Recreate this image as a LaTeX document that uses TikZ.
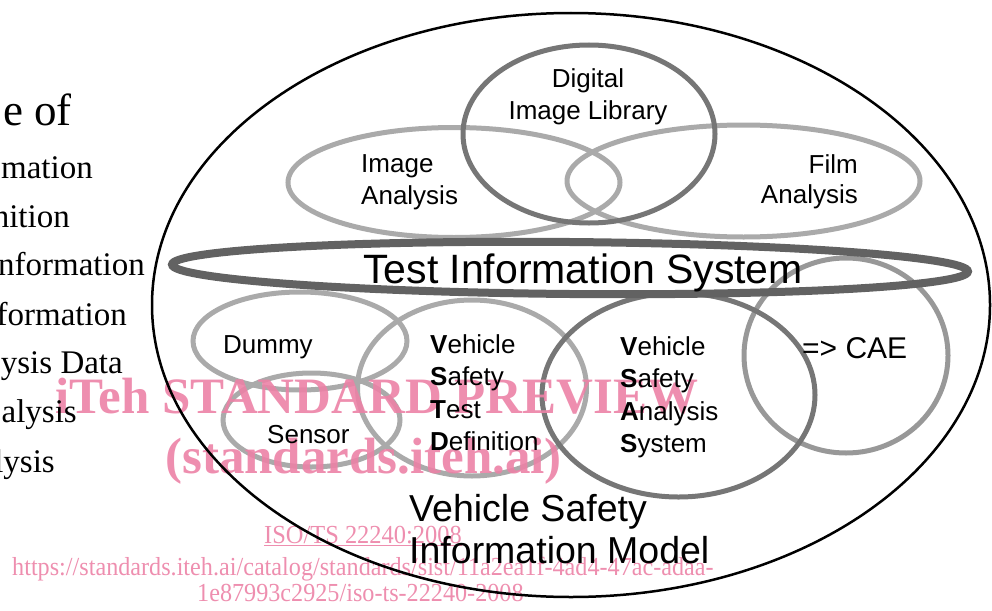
\documentclass[tikz,border=0pt]{standalone}
\usepackage{fontspec}
\usepackage{graphicx}
\setmainfont{Liberation Serif}
\newfontfamily\arialf{Liberation Sans}
\usetikzlibrary{shapes.geometric}
\definecolor{ringdark}{RGB}{98,98,98}
\definecolor{ringmid}{RGB}{118,118,118}
\definecolor{ringlight}{RGB}{170,170,170}
\definecolor{ringcae}{RGB}{152,152,152}
\definecolor{wmpink}{RGB}{236,130,166}
\begin{document}
\begin{tikzpicture}[x=1pt,y=-1pt,
  ring/.style={draw, ellipse, inner sep=0pt, line width=5pt},
  lbl/.style={font=\arialf\fontsize{26}{30}\selectfont, inner sep=0pt, text=black},
  frag/.style={font=\fontsize{33}{37}\selectfont, inner sep=0pt, anchor=base east},
  wm/.style={text=wmpink, text opacity=0.9, inner sep=0pt, anchor=base west}]
\useasboundingbox (0,0) rectangle (992,610);

% light rings
\node[ring, draw=ringlight, minimum width=332pt, minimum height=110pt] (ia) at (454,182.5) {};
\node[ring, draw=ringlight, minimum width=353pt, minimum height=112pt] (fa) at (743.5,181) {};
\node[ring, draw=ringlight, minimum width=214pt, minimum height=98pt] (dum) at (300,341) {};
\node[ring, draw=ringlight, minimum width=177pt, minimum height=94pt] (sen) at (311.5,420) {};
\node[ring, draw=ringlight, minimum width=229pt, minimum height=176pt] (vstd) at (472,388) {};
\node[ring, draw=ringcae, minimum width=204pt, minimum height=195pt] (cae) at (846,355.5) {};
% darker rings
\node[ring, draw=ringmid, minimum width=252pt, minimum height=178pt] (dil) at (589,134) {};
\node[ring, draw=ringmid, minimum width=273pt, minimum height=204pt] (vsas) at (678.5,395) {};
\node[ring, draw=ringdark, line width=8pt, rotate=-0.5, minimum width=796pt, minimum height=52pt] (tis) at (570,268) {};

% watermark
\node[wm, font=\bfseries\fontsize{51}{56}\selectfont] (wm1) at (55,413) {iTeh STANDARD PREVIEW};
\node[wm, font=\bfseries\fontsize{51}{56}\selectfont] (wm2) at (165,473) {(standards.iteh.ai)};
\node[wm, font=\fontsize{26}{30}\selectfont] (wm3) at (264,543) {\scalebox{0.94}[1]{\underline{ISO/TS 22240:2008}}};
\node[wm, font=\fontsize{26}{30}\selectfont] (wm4) at (12,575) {\scalebox{0.93}[1]{https://standards.iteh.ai/catalog/standards/sist/11a2ea1f-4ad4-47ac-adaa-}};
\node[wm, font=\fontsize{26}{30}\selectfont] (wm5) at (197,601) {\scalebox{0.93}[1]{1e87993c2925/iso-ts-22240-2008}};

% outer ellipse
\node[draw=black, ellipse, inner sep=0pt, line width=2.5pt, minimum width=838pt, minimum height=584pt] (outer) at (571,305) {};

% labels
\node[lbl, anchor=base] (dil1) at (588,87) {Digital};
\node[lbl, anchor=base] (dil2) at (588,119) {Image Library};
\node[lbl, anchor=base west] (ia1) at (361,172) {Image};
\node[lbl, anchor=base west] (ia2) at (361,204) {Analysis};
\node[lbl, anchor=base east] (fa1) at (858,173) {Film};
\node[lbl, anchor=base east] (fa2) at (858,203) {Analysis};
\node[lbl, anchor=base west, font=\arialf\fontsize{41}{46}\selectfont] (tisl) at (363,283) {Test Information System};
\node[lbl, anchor=base west] (duml) at (223,353) {Dummy};
\node[lbl, anchor=base west] (senl) at (267,443) {Sensor};
\node[lbl, anchor=base west] (vstd1) at (430,353) {\textbf{V}ehicle};
\node[lbl, anchor=base west] (vstd2) at (430,385.5) {\textbf{S}afety};
\node[lbl, anchor=base west] (vstd3) at (430,418) {\textbf{T}est};
\node[lbl, anchor=base west] (vstd4) at (430,450.5) {\textbf{D}efinition};
\node[lbl, anchor=base west] (vsas1) at (620,355) {\textbf{V}ehicle};
\node[lbl, anchor=base west] (vsas2) at (620,387.5) {\textbf{S}afety};
\node[lbl, anchor=base west] (vsas3) at (620,420) {\textbf{A}nalysis};
\node[lbl, anchor=base west] (vsas4) at (620,452.5) {\textbf{S}ystem};
\node[lbl, anchor=base west, font=\arialf\fontsize{30}{34}\selectfont] (cael) at (802,358) {=> CAE};
\node[lbl, anchor=base west, font=\arialf\fontsize{37.5}{43}\selectfont] (vsim1) at (409,521) {Vehicle Safety};
\node[lbl, anchor=base west, font=\arialf\fontsize{37.5}{43}\selectfont] (vsim2) at (409,563) {Information Model};

% left fragments
\node[frag, font=\fontsize{45}{50}\selectfont] (f0) at (72,125) {e of};
\node[frag] (f1) at (93,178) {mation};
\node[frag] (f2) at (70,227) {nition};
\node[frag] (f3) at (145,275) {nformation};
\node[frag] (f4) at (127,325) {formation};
\node[frag] (f5) at (123,373) {ysis Data};
\node[frag] (f6) at (77,422) {alysis};
\node[frag] (f7) at (55,472) {lysis};
\end{tikzpicture}
\end{document}
